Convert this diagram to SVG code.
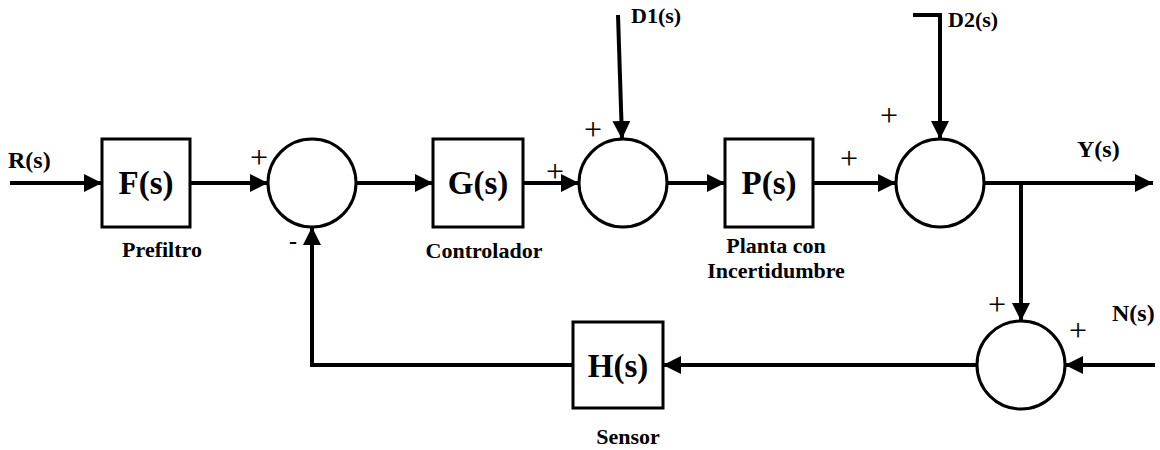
<svg xmlns="http://www.w3.org/2000/svg" width="1160" height="450" viewBox="0 0 1160 450">
<style>
.blk{fill:#fff;stroke:#000;stroke-width:3}
.sum{fill:#fff;stroke:#000;stroke-width:3}
.ln{fill:none;stroke:#000;stroke-width:4;stroke-linecap:butt;stroke-linejoin:miter}
text{font-family:'Liberation Serif','Times New Roman',Times,serif;fill:#000}
.t{font-weight:bold}
.big{font-size:33px;text-anchor:middle}
.sig{font-size:24px}
.lbl{font-size:22px;text-anchor:middle}
.dis{font-size:22px}
.pm{font-size:32px;font-weight:normal;text-anchor:middle}
.mn{font-size:24px;font-weight:bold;text-anchor:middle}
</style>
<defs>
<marker id="ah" markerWidth="18" markerHeight="18" refX="18" refY="9" orient="auto" markerUnits="userSpaceOnUse">
<path d="M0,0 L18,9 L0,18 z" fill="#000"/>
</marker>
</defs>
<rect width="1160" height="450" fill="#fff"/>
<g id="connectors">
<line class="ln" x1="10" y1="183" x2="102" y2="183" marker-end="url(#ah)"/>
<line class="ln" x1="190" y1="183" x2="268" y2="183" marker-end="url(#ah)"/>
<line class="ln" x1="356" y1="183" x2="433" y2="183" marker-end="url(#ah)"/>
<line class="ln" x1="523" y1="183" x2="579" y2="183" marker-end="url(#ah)"/>
<line class="ln" x1="667" y1="183" x2="725" y2="183" marker-end="url(#ah)"/>
<line class="ln" x1="813" y1="183" x2="896" y2="183" marker-end="url(#ah)"/>
<line class="ln" x1="984" y1="183" x2="1153" y2="183" marker-end="url(#ah)"/>
<line class="ln" x1="618" y1="15" x2="622" y2="139" marker-end="url(#ah)"/>
<polyline class="ln" points="913,15 940,15 940,139" marker-end="url(#ah)"/>
<line class="ln" x1="1021" y1="183" x2="1021" y2="321" marker-end="url(#ah)"/>
<line class="ln" x1="1155" y1="365" x2="1065" y2="365" marker-end="url(#ah)"/>
<line class="ln" x1="977" y1="365" x2="663" y2="365" marker-end="url(#ah)"/>
<polyline class="ln" points="573,365 312,365 312,227" marker-end="url(#ah)"/>
</g>
<g id="F">
<rect class="blk" x="102" y="139" width="88" height="88"/>
<text class="t big" x="146" y="194">F(s)</text>
<text class="t lbl" x="162" y="257">Prefiltro</text>
</g>
<g id="sum1">
<circle class="sum" cx="312" cy="183" r="44"/>
<text class="pm" x="259" y="168">+</text>
<text class="mn" x="293" y="249">-</text>
</g>
<g id="G">
<rect class="blk" x="433" y="139" width="90" height="88"/>
<text class="t big" x="478" y="194">G(s)</text>
<text class="t lbl" x="484" y="258">Controlador</text>
</g>
<g id="sum2">
<circle class="sum" cx="623" cy="183" r="44"/>
<text class="pm" x="593" y="140">+</text>
<text class="pm" x="555" y="182">+</text>
</g>
<g id="P">
<rect class="blk" x="725" y="139" width="88" height="88"/>
<text class="t big" x="769" y="194">P(s)</text>
<text class="t lbl" x="776" y="253">Planta con</text>
<text class="t lbl" x="776" y="278">Incertidumbre</text>
</g>
<g id="sum3">
<circle class="sum" cx="940" cy="183" r="44"/>
<text class="pm" x="889" y="126">+</text>
<text class="pm" x="849" y="169">+</text>
</g>
<g id="H">
<rect class="blk" x="573" y="322" width="90" height="86"/>
<text class="t big" x="618" y="377">H(s)</text>
<text class="t lbl" x="628" y="444">Sensor</text>
</g>
<g id="sum4">
<circle class="sum" cx="1021" cy="365" r="44"/>
<text class="pm" x="997" y="315">+</text>
<text class="pm" x="1078" y="341">+</text>
</g>
<g id="signals">
<text class="t sig" x="8" y="168">R(s)</text>
<text class="t dis" x="631" y="23">D1(s)</text>
<text class="t dis" x="948" y="27">D2(s)</text>
<text class="t sig" x="1077" y="157">Y(s)</text>
<text class="t sig" x="1112" y="321">N(s)</text>
</g>
</svg>
